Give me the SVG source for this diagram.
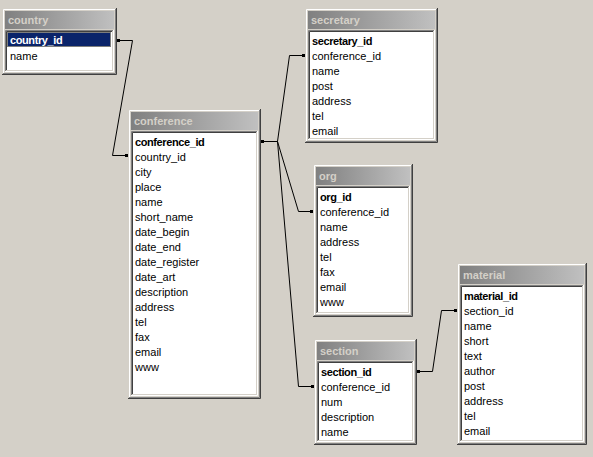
<svg xmlns="http://www.w3.org/2000/svg" width="593" height="457" viewBox="0 0 593 457">
<defs>
<linearGradient id="tg" x1="0" y1="0" x2="1" y2="0">
<stop offset="0" stop-color="#808080"/>
<stop offset="1" stop-color="#c0c0c0"/>
</linearGradient>
</defs>
<style>
.win{fill:#d4d0c8}
.w1{fill:none;stroke:#ffffff;stroke-width:1}
.d1{fill:none;stroke:#404040;stroke-width:1}
.d2{fill:none;stroke:#808080;stroke-width:1}
.l0{fill:none;stroke:#d4d0c8;stroke-width:1}
.tb{fill:url(#tg)}
.tt{font-family:"Liberation Sans",Arial,sans-serif;font-size:11px;font-weight:bold;fill:#d4d0c8}
.list{fill:#ffffff}
.f{font-family:"Liberation Sans",Arial,sans-serif;font-size:11px;fill:#000}
.pk{font-weight:bold;letter-spacing:-0.4px}
.con{fill:none;stroke:#000;stroke-width:1}
.dot{fill:#000}
</style>
<rect width="593" height="457" fill="#d4d0c8"/>

<g id="country" transform="translate(2,8)">
<rect class="win" width="115" height="67"/>
<path class="w1" d="M1.5,65 V1.5 H113"/>
<path class="d1" d="M0,66.5 H114.5 V0"/>
<path class="d2" d="M1,65.5 H113.5 V1"/>
<rect class="tb" x="3" y="3" width="109" height="18"/>
<text class="tt" x="6" y="16">country</text>
<rect class="list" x="5" y="24" width="105" height="38"/>
<path class="d2" d="M3.5,64 V22.5 H112"/>
<path class="d1" d="M4.5,63 V23.5 H111"/>
<path class="w1" d="M3,63.5 H111.5 V22"/>
<path class="l0" d="M4,62.5 H110.5 V23"/>
<rect x="5" y="24" width="104" height="15" fill="#0a246a"/>
<rect x="5.5" y="24.5" width="103" height="14" fill="none" stroke="#f0d890" stroke-dasharray="1,1"/>
<text class="f pk" x="8" y="36" fill="#fff" style="fill:#fff">country_id</text>
<text class="f" x="8" y="52">name</text>
</g>

<g id="conference" transform="translate(128,109)">
<rect class="win" width="133" height="290"/>
<path class="w1" d="M1.5,288 V1.5 H131"/>
<path class="d1" d="M0,289.5 H132.5 V0"/>
<path class="d2" d="M1,288.5 H131.5 V1"/>
<rect class="tb" x="3" y="3" width="127" height="18"/>
<text class="tt" x="6" y="16">conference</text>
<rect class="list" x="5" y="24" width="123" height="261"/>
<path class="d2" d="M3.5,287 V22.5 H130"/>
<path class="d1" d="M4.5,286 V23.5 H129"/>
<path class="w1" d="M3,286.5 H129.5 V22"/>
<path class="l0" d="M4,285.5 H128.5 V23"/>
<text class="f pk" x="7" y="37">conference_id</text>
<text class="f" x="7" y="52">country_id</text>
<text class="f" x="7" y="67">city</text>
<text class="f" x="7" y="82">place</text>
<text class="f" x="7" y="97">name</text>
<text class="f" x="7" y="112">short_name</text>
<text class="f" x="7" y="127">date_begin</text>
<text class="f" x="7" y="142">date_end</text>
<text class="f" x="7" y="157">date_register</text>
<text class="f" x="7" y="172">date_art</text>
<text class="f" x="7" y="187">description</text>
<text class="f" x="7" y="202">address</text>
<text class="f" x="7" y="217">tel</text>
<text class="f" x="7" y="232">fax</text>
<text class="f" x="7" y="247">email</text>
<text class="f" x="7" y="262">www</text>
</g>

<g id="secretary" transform="translate(305,8)">
<rect class="win" width="133" height="135"/>
<path class="w1" d="M1.5,133 V1.5 H131"/>
<path class="d1" d="M0,134.5 H132.5 V0"/>
<path class="d2" d="M1,133.5 H131.5 V1"/>
<rect class="tb" x="3" y="3" width="127" height="18"/>
<text class="tt" x="6" y="16">secretary</text>
<rect class="list" x="5" y="24" width="123" height="106"/>
<path class="d2" d="M3.5,132 V22.5 H130"/>
<path class="d1" d="M4.5,131 V23.5 H129"/>
<path class="w1" d="M3,131.5 H129.5 V22"/>
<path class="l0" d="M4,130.5 H128.5 V23"/>
<text class="f pk" x="7" y="37">secretary_id</text>
<text class="f" x="7" y="52">conference_id</text>
<text class="f" x="7" y="67">name</text>
<text class="f" x="7" y="82">post</text>
<text class="f" x="7" y="97">address</text>
<text class="f" x="7" y="112">tel</text>
<text class="f" x="7" y="127">email</text>
</g>

<g id="org" transform="translate(313,164)">
<rect class="win" width="100" height="153"/>
<path class="w1" d="M1.5,151 V1.5 H98"/>
<path class="d1" d="M0,152.5 H99.5 V0"/>
<path class="d2" d="M1,151.5 H98.5 V1"/>
<rect class="tb" x="3" y="3" width="94" height="18"/>
<text class="tt" x="6" y="16">org</text>
<rect class="list" x="5" y="24" width="90" height="124"/>
<path class="d2" d="M3.5,150 V22.5 H97"/>
<path class="d1" d="M4.5,149 V23.5 H96"/>
<path class="w1" d="M3,149.5 H96.5 V22"/>
<path class="l0" d="M4,148.5 H95.5 V23"/>
<text class="f pk" x="7" y="37">org_id</text>
<text class="f" x="7" y="52">conference_id</text>
<text class="f" x="7" y="67">name</text>
<text class="f" x="7" y="82">address</text>
<text class="f" x="7" y="97">tel</text>
<text class="f" x="7" y="112">fax</text>
<text class="f" x="7" y="127">email</text>
<text class="f" x="7" y="142">www</text>
</g>

<g id="section" transform="translate(314,339)">
<rect class="win" width="103" height="106"/>
<path class="w1" d="M1.5,104 V1.5 H101"/>
<path class="d1" d="M0,105.5 H102.5 V0"/>
<path class="d2" d="M1,104.5 H101.5 V1"/>
<rect class="tb" x="3" y="3" width="97" height="18"/>
<text class="tt" x="6" y="16">section</text>
<rect class="list" x="5" y="24" width="93" height="77"/>
<path class="d2" d="M3.5,103 V22.5 H100"/>
<path class="d1" d="M4.5,102 V23.5 H99"/>
<path class="w1" d="M3,102.5 H99.5 V22"/>
<path class="l0" d="M4,101.5 H98.5 V23"/>
<text class="f pk" x="7" y="37">section_id</text>
<text class="f" x="7" y="52">conference_id</text>
<text class="f" x="7" y="67">num</text>
<text class="f" x="7" y="82">description</text>
<text class="f" x="7" y="97">name</text>
</g>

<g id="material" transform="translate(457,263)">
<rect class="win" width="130" height="182"/>
<path class="w1" d="M1.5,180 V1.5 H128"/>
<path class="d1" d="M0,181.5 H129.5 V0"/>
<path class="d2" d="M1,180.5 H128.5 V1"/>
<rect class="tb" x="3" y="3" width="124" height="18"/>
<text class="tt" x="6" y="16">material</text>
<rect class="list" x="5" y="24" width="120" height="153"/>
<path class="d2" d="M3.5,179 V22.5 H127"/>
<path class="d1" d="M4.5,178 V23.5 H126"/>
<path class="w1" d="M3,178.5 H126.5 V22"/>
<path class="l0" d="M4,177.5 H125.5 V23"/>
<text class="f pk" x="7" y="37">material_id</text>
<text class="f" x="7" y="52">section_id</text>
<text class="f" x="7" y="67">name</text>
<text class="f" x="7" y="82">short</text>
<text class="f" x="7" y="97">text</text>
<text class="f" x="7" y="112">author</text>
<text class="f" x="7" y="127">post</text>
<text class="f" x="7" y="142">address</text>
<text class="f" x="7" y="157">tel</text>
<text class="f" x="7" y="172">email</text>
</g>

<g id="connectors">
<path class="con" d="M117,40.5 H132.5 L112.5,155.5 H127"/>
<rect class="dot" x="117" y="39" width="3" height="3"/>
<rect class="dot" x="125" y="154" width="3" height="3"/>
<path class="con" d="M261,141.5 H277.5 L289.5,55.5 H304"/>
<path class="con" d="M277.5,141.5 L298.5,211.5 H312"/>
<path class="con" d="M277.5,141.5 L298.5,386.5 H313"/>
<rect class="dot" x="261" y="140" width="3" height="3"/>
<rect class="dot" x="302" y="54" width="3" height="3"/>
<rect class="dot" x="310" y="210" width="3" height="3"/>
<rect class="dot" x="311" y="385" width="3" height="3"/>
<path class="con" d="M417,371.5 H432.5 L441.5,310.5 H456"/>
<rect class="dot" x="417" y="370" width="3" height="3"/>
<rect class="dot" x="454" y="309" width="3" height="3"/>
</g>
</svg>
